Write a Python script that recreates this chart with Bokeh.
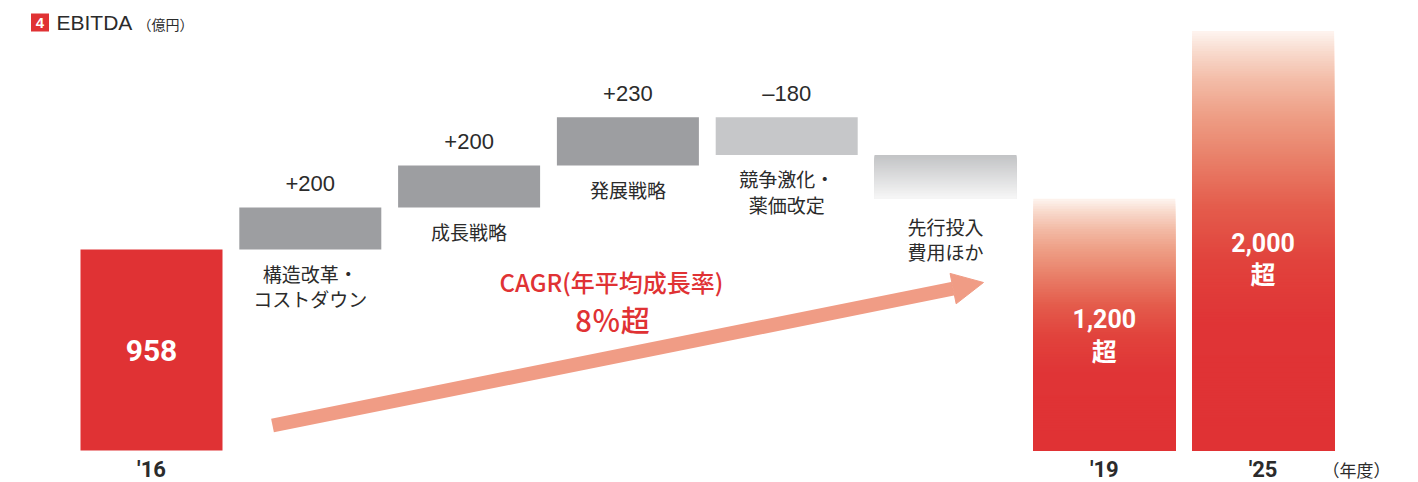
from bokeh.plotting import figure
from bokeh.models import Range1d, Arrow, NormalHead
from bokeh.core.properties import value
from bokeh.embed import file_html
from bokeh.resources import INLINE

# ---------------- data ----------------
start_label = "'16"
start_value = 958
step_names = ["構造改革・\nコストダウン", "成長戦略", "発展戦略", "競争激化・\n薬価改定"]
step_changes = [200, 200, 230, -180]
step_labels = ["+200", "+200", "+230", "–180"]
other_name = "先行投入\n費用ほか"
target_labels = ["'19", "'25"]
target_values = [1200, 2000]
target_texts = ["1,200\n超", "2,000\n超"]
cagr_texts = ["CAGR(年平均成長率)", "8％超"]
title_num = "4"
title_text = "EBITDA"
title_unit = "（億円）"
year_unit = "（年度）"

# ---------------- layout helpers ----------------
STEP_PX = 158.8       # px between bar centres
X0_PX = 151           # page x of first bar centre
BASE_PX = 450         # page y of zero line
PX_PER_VAL = 201 / 958
ORIGIN = 0            # page offset of the figure


def X(px):
    return (px - X0_PX) / STEP_PX


def Y(py):
    return (BASE_PX - py) / PX_PER_VAL


W, H = 1410, 482
BAR_W = 142 / STEP_PX

RED = "#e03234"
GRAY_POS = "#9d9ea1"
GRAY_NEG = "#c6c7c9"
ARROW_C = "#f09c85"
TXT = "#2b2b2b"
JP = value("'Noto Sans CJK JP'")
JPM = value("'Noto Sans CJK JP Medium', 'Noto Sans CJK JP'")
LAT = value("'Liberation Sans'")
NUM = value("Roboto, 'Noto Sans CJK JP'")

p = figure(width=W, height=H, output_backend="svg", toolbar_location=None,
           x_range=Range1d(X(ORIGIN), X(ORIGIN + W)), y_range=Range1d(Y(ORIGIN + H), Y(ORIGIN)),
           x_axis_location=None, y_axis_location=None, min_border=0,
           border_fill_color="white", background_fill_color="white")
p.outline_line_color = None
p.grid.visible = False


def hex2rgb(h):
    return tuple(int(h[i:i + 2], 16) for i in (1, 3, 5))


def interp(stops, t):
    for (t0, c0), (t1, c1) in zip(stops[:-1], stops[1:]):
        if t0 <= t <= t1:
            f = 0 if t1 == t0 else (t - t0) / (t1 - t0)
            a, b = hex2rgb(c0), hex2rgb(c1)
            return "#%02x%02x%02x" % tuple(round(a[i] + (b[i] - a[i]) * f) for i in range(3))
    return stops[-1][1]


def grad_bar(x, bottom, top, stops, n=90):
    xs_l, xs_r, tops, bots, cols = [], [], [], [], []
    for k in range(n):
        t = k / n
        xs_l.append(x - BAR_W / 2)
        xs_r.append(x + BAR_W / 2)
        tops.append(top - (top - bottom) * t)
        bots.append(bottom)
        cols.append(interp(stops, t + 0.5 / n))
    p.quad(left=xs_l, right=xs_r, top=tops, bottom=bots, fill_color=cols, line_color=None)


RED_STOPS = [(0, "#fef5f0"), (0.05, "#f8dacd"), (0.12, "#f3bba6"), (0.2, "#ee9f86"),
             (0.3, "#e9816a"), (0.42, "#e45c4c"), (0.55, "#e1423c"), (0.7, "#e03436"),
             (1.0, RED)]
GRAY_STOPS = [(0, "#c2c3c5"), (1.0, "#f7f7f7")]

# ---------------- start bar ----------------
p.quad(left=[0 - BAR_W / 2], right=[0 + BAR_W / 2], top=[start_value], bottom=[0],
       fill_color=RED, line_color=None)
p.text(x=[0], y=[start_value / 2], text=[str(start_value)], text_color="white",
       text_font=NUM, text_font_style="bold", text_font_size="30px",
       text_align="center", text_baseline="middle")

# ---------------- step bars ----------------
cum = start_value
sx, stop_, sbot, scol = [], [], [], []
for i, ch in enumerate(step_changes):
    x = i + 1
    if ch >= 0:
        b, t = cum, cum + ch
        scol.append(GRAY_POS)
    else:
        b, t = cum + ch, cum
        scol.append(GRAY_NEG)
    cum += ch
    sx.append(x)
    stop_.append(t)
    sbot.append(b)

p.quad(left=[x - BAR_W / 2 for x in sx], right=[x + BAR_W / 2 for x in sx],
       top=stop_, bottom=sbot, fill_color=scol, line_color=None)
p.text(x=sx, y=stop_, text=step_labels, text_color=TXT, text_font=LAT,
       text_font_size="22px", text_align="center", text_baseline="alphabetic",
       y_offset=-24)
p.text(x=sx, y=sbot, text=step_names, text_color=TXT, text_font=JP,
       text_font_size="19px", text_align="center", text_baseline="top",
       y_offset=10, text_line_height=0.95)

# ---------------- other costs bar (gradient) ----------------
ox = len(step_changes) + 1
grad_bar(ox, target_values[0], cum, GRAY_STOPS, n=42)
p.text(x=[ox], y=[target_values[0]], text=[other_name], text_color=TXT, text_font=JP,
       text_font_size="19px", text_align="center", text_baseline="top",
       y_offset=14, text_line_height=0.95)

# ---------------- target bars ----------------
tx = [ox + 1 + i for i in range(len(target_values))]
for x, v in zip(tx, target_values):
    grad_bar(x, 0, v, RED_STOPS, n=int(v * PX_PER_VAL / 2.5))
p.text(x=tx, y=[v * 0.455 for v in target_values], text=target_texts, text_color="white",
       text_font=NUM, text_font_style="bold", text_font_size="25px",
       text_align="center", text_baseline="middle", text_line_height=1.12)

# ---------------- x labels ----------------
xl = [0] + tx
p.text(x=xl, y=[0] * 3, text=[start_label] + target_labels, text_color=TXT,
       text_font=NUM, text_font_style="bold", text_font_size="22px",
       text_align="center", text_baseline="middle", y_offset=19)
p.text(x=[X(1356)], y=[0], text=[year_unit], text_color=TXT, text_font=JP,
       text_font_size="17px", text_align="center", text_baseline="middle", y_offset=19)

# ---------------- CAGR arrow ----------------
p.add_layout(Arrow(end=NormalHead(size=31, fill_color=ARROW_C, line_color=ARROW_C, line_width=1),
                   x_start=X(272), y_start=Y(425), x_end=X(983), y_end=Y(282),
                   line_color=ARROW_C, line_width=14))
p.text(x=[X(611), X(612)], y=[Y(281), Y(318)], text=cagr_texts, text_color=RED,
       text_font=JPM, text_font_size=["24px", "29px"], text_align="center",
       text_baseline="middle")

# ---------------- title ----------------
p.rect(x=[X(39.5)], y=[Y(22)], width=18, height=18, width_units="screen",
       height_units="screen", fill_color=RED, line_color=None)
p.text(x=[X(39.5)], y=[Y(22)], text=[title_num], text_color="white", text_font=LAT,
       text_font_style="bold", text_font_size="15px", text_align="center",
       text_baseline="middle")
p.text(x=[X(56)], y=[Y(22)], text=[title_text], text_color=TXT, text_font=LAT,
       text_font_size="21px", text_align="left", text_baseline="middle")
p.text(x=[X(137)], y=[Y(23)], text=[title_unit], text_color=TXT, text_font=JP,
       text_font_size="14px", text_align="left", text_baseline="middle")

open("out.html", "w").write(file_html(p, INLINE))
